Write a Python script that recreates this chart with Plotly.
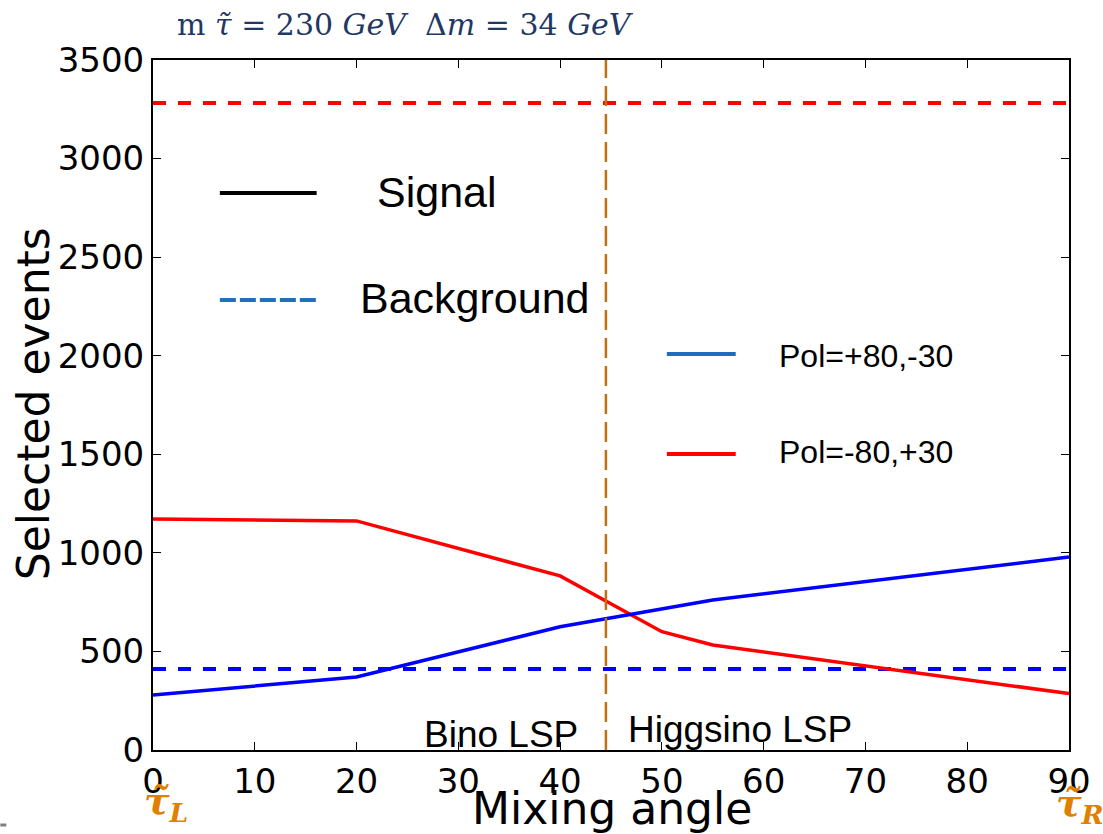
import plotly.graph_objects as go

# ---------------- data ----------------
angle_pos = [0, 20, 40, 55, 90]            # Pol=+80,-30 signal
signal_pos = [279, 370, 625, 761, 979]
angle_neg = [0, 20, 40, 50, 55, 90]        # Pol=-80,+30 signal
signal_neg = [1172, 1162, 883, 600, 533, 286]
bkg_angle = [0, 90]
background_pos = [411, 411]
background_neg = [3282, 3282]
lsp_boundary = 44.5
x_ticks = [0, 10, 20, 30, 40, 50, 60, 70, 80, 90]
y_ticks = [0, 500, 1000, 1500, 2000, 2500, 3000, 3500]

W, H = 1103, 834
L, R, T, B = 153, 1071, 60, 750


def px(xp):
    return (xp - L) / (R - L)


def py(yp):
    return (B - yp) / (B - T)


fig = go.Figure()
fig.add_trace(go.Scatter(x=bkg_angle, y=background_neg, mode="lines",
                         line=dict(color="#FF0000", width=4, dash="13px,12px"), showlegend=False))
fig.add_trace(go.Scatter(x=bkg_angle, y=background_pos, mode="lines",
                         line=dict(color="#0000FF", width=4, dash="13px,12px"), showlegend=False))
fig.add_trace(go.Scatter(x=angle_neg, y=signal_neg, mode="lines",
                         line=dict(color="#FF0000", width=3.5), showlegend=False))
fig.add_trace(go.Scatter(x=angle_pos, y=signal_pos, mode="lines",
                         line=dict(color="#0000FF", width=3.5), showlegend=False))

shapes = [
    dict(type="line", xref="x", yref="paper", x0=lsp_boundary, x1=lsp_boundary, y0=0, y1=1,
         line=dict(color="#C07010", width=2.5, dash="20px,8px")),
    # manual legend lines
    dict(type="line", xref="paper", yref="paper", x0=px(220), x1=px(317), y0=py(193), y1=py(193),
         line=dict(color="black", width=4)),
    dict(type="line", xref="paper", yref="paper", x0=px(220), x1=px(317), y0=py(300), y1=py(300),
         line=dict(color="#2070C0", width=4, dash="16px,4px")),
    dict(type="line", xref="paper", yref="paper", x0=px(668), x1=px(737), y0=py(354), y1=py(354),
         line=dict(color="#1F6BC0", width=4)),
    dict(type="line", xref="paper", yref="paper", x0=px(668), x1=px(737), y0=py(454), y1=py(454),
         line=dict(color="#FF0000", width=4)),
    dict(type="line", xref="paper", yref="paper", x0=px(0), x1=px(6), y0=py(825), y1=py(825),
         line=dict(color="#808080", width=3)),
]

ann = []


def text(x, y, s, size, family="Liberation Sans", color="black", xanchor="left", angle=0):
    ann.append(dict(x=px(x), y=py(y), xref="paper", yref="paper", text=s, showarrow=False,
                    xanchor=xanchor, yanchor="middle", textangle=angle,
                    font=dict(size=size, family=family, color=color)))


text(375, 192, "Signal", 43)
text(358, 298, "Background", 43)
text(778, 356, "Pol=+80,-30", 32)
text(778, 452, "Pol=-80,+30", 32)
text(423, 734, "Bino LSP", 37)
text(627, 729, "Higgsino LSP", 37)
text(613, 808, "Mixing angle", 44, family="DejaVu Sans", xanchor="center")
text(33, 404, "Selected events", 44, family="DejaVu Sans", xanchor="center", angle=-90)
text(175, 24, "m <i>τ̃</i> = 230 <i>GeV</i>&nbsp;&nbsp;Δ<i>m</i> = 34 <i>GeV</i>", 30,
     family="DejaVu Serif", color="#1F3864")
text(166, 803, "<b><i>τ̃<sub>L</sub></i></b>", 38, family="DejaVu Serif", color="#E08000",
     xanchor="center")
text(1082, 805, "<b><i>τ̃<sub>R</sub></i></b>", 38, family="DejaVu Serif", color="#E08000",
     xanchor="center")

axis_common = dict(showgrid=False, zeroline=False, showline=True, linecolor="black", linewidth=2,
                   mirror="ticks", ticks="inside", ticklen=8, tickcolor="black", tickwidth=1,
                   tickfont=dict(size=34, family="DejaVu Sans", color="black"))

fig.update_layout(
    width=W, height=H,
    margin=dict(l=L, r=W - R, t=T, b=H - B, pad=0),
    plot_bgcolor="white", paper_bgcolor="white",
    xaxis=dict(range=[0, 90], tickvals=x_ticks, **axis_common),
    yaxis=dict(range=[0, 3500], tickvals=y_ticks, **axis_common),
    shapes=shapes, annotations=ann, showlegend=False,
)

fig.write_html("out.html")
